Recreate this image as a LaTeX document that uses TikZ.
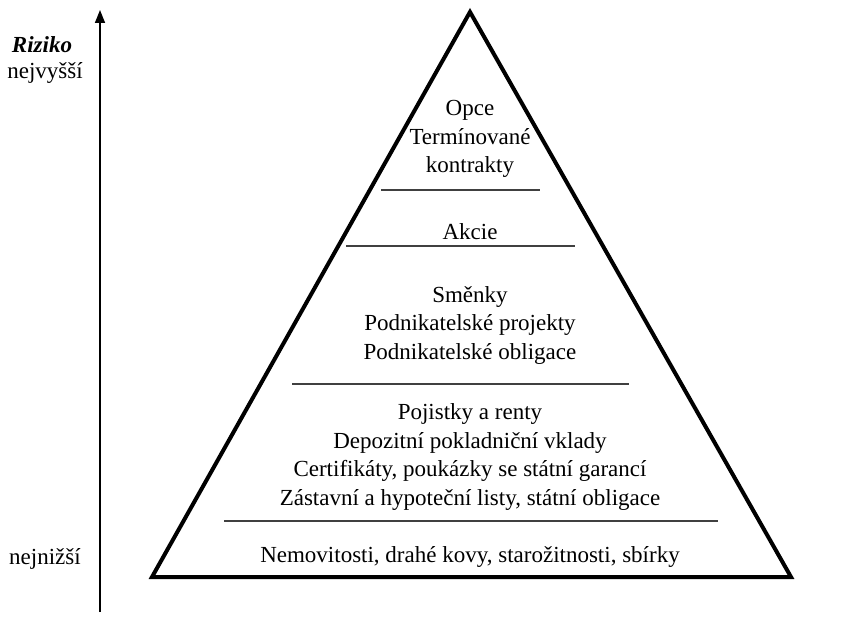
\documentclass[tikz,border=0pt]{standalone}
\usepackage{fontspec}
\setmainfont{Liberation Serif}
\usetikzlibrary{arrows.meta}
\begin{document}
\begin{tikzpicture}[x=1pt,y=-1pt,
  lbl/.style={font=\fontsize{23}{28.5}\selectfont, align=center, inner sep=0pt},
  sep/.style={line width=1.3pt, draw=black!75},
  pyr/.style={line width=4pt, line join=miter},
  axis/.style={line width=1.5pt, -{Triangle[length=13pt,width=10pt]}}]
\useasboundingbox (0,0) rectangle (846,617);
% pyramid
\coordinate (apex) at (470,12);
\coordinate (bl) at (152,577);
\coordinate (br) at (791,577);
\draw[pyr] (apex) -- (bl) -- (br) -- cycle;
% axis
\coordinate (ab) at (100,612);
\coordinate (at) at (100,10);
\draw[axis] (ab) -- (at);
% separators
\coordinate (s1a) at (381,190); \coordinate (s1b) at (540,190);
\coordinate (s2a) at (346,246); \coordinate (s2b) at (575,246);
\coordinate (s3a) at (292,384); \coordinate (s3b) at (629,384);
\coordinate (s4a) at (224,521); \coordinate (s4b) at (718,521);
\draw[sep] (s1a) -- (s1b);
\draw[sep] (s2a) -- (s2b);
\draw[sep] (s3a) -- (s3b);
\draw[sep] (s4a) -- (s4b);
% texts
\node[lbl] (t1) at (470,139) {Opce\\Termínované\\kontrakty};
\node[lbl] (t2) at (470,232) {Akcie};
\node[lbl] (t3) at (470,325) {Směnky\\Podnikatelské projekty\\Podnikatelské obligace};
\node[lbl] (t4) at (470,457) {Pojistky a renty\\Depozitní pokladniční vklady\\Certifikáty, poukázky se státní garancí\\Zástavní a hypoteční listy, státní obligace};
\node[lbl] (t5) at (470,557) {Nemovitosti, drahé kovy, starožitnosti, sbírky};
% left labels
\node[lbl, font=\fontsize{23}{28.5}\selectfont\bfseries\itshape] (r) at (42,45) {Riziko};
\node[lbl] (hi) at (45,73) {nejvyšší};
\node[lbl] (lo) at (45,559) {nejnižší};
\end{tikzpicture}
\end{document}
